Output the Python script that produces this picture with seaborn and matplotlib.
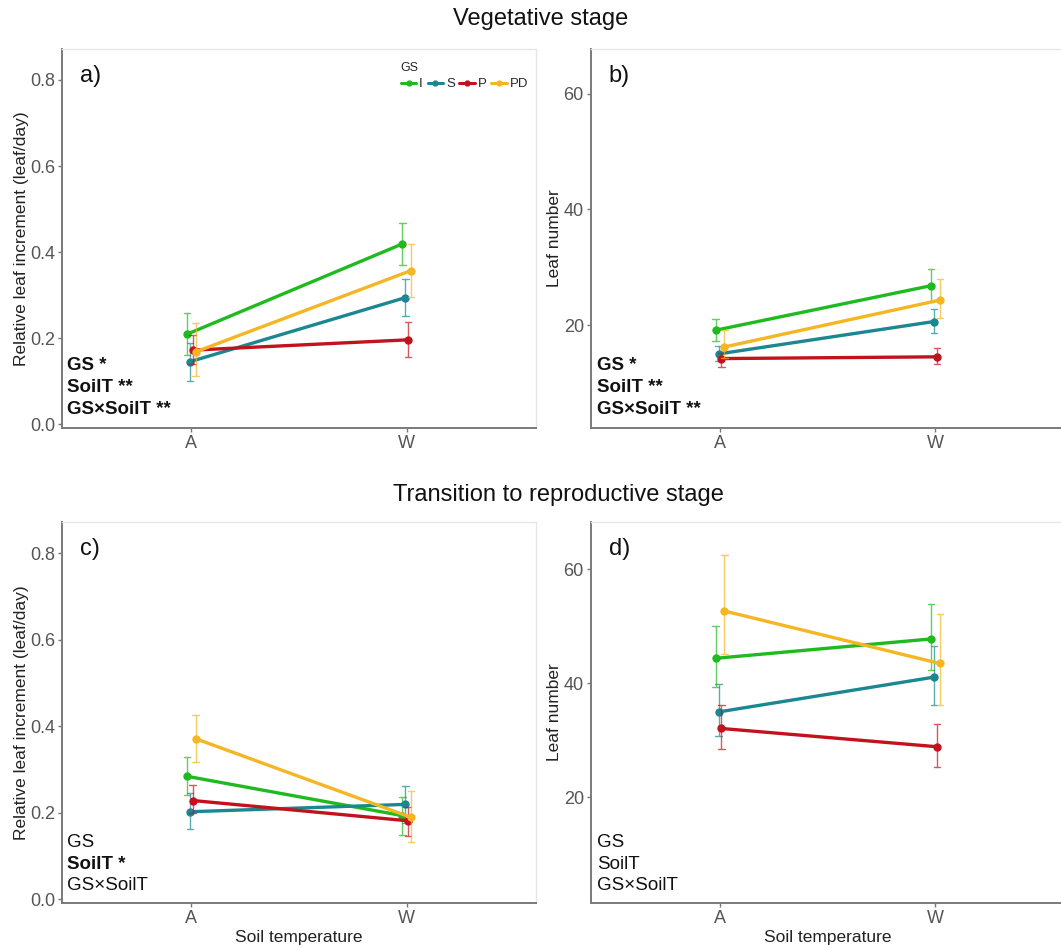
import numpy as np
import pandas as pd
import matplotlib
matplotlib.use("Agg")
import matplotlib.pyplot as plt
from matplotlib.lines import Line2D
import seaborn as sns

# ---- data: means with lower / upper error limits, per growth substrate (GS) ----
soil_temp = ["A", "W"]
gs_levels = ["I", "S", "P", "PD"]
gs_colors = ["#1FBA1F", "#1B8791", "#C2121E", "#F4B622"]

# a) vegetative stage, relative leaf increment (leaf/day)
veg_rate_mean = {"I": [0.209, 0.419], "S": [0.145, 0.294], "P": [0.172, 0.196], "PD": [0.168, 0.357]}
veg_rate_lo = {"I": [0.161, 0.371], "S": [0.100, 0.251], "P": [0.140, 0.156], "PD": [0.111, 0.296]}
veg_rate_hi = {"I": [0.258, 0.467], "S": [0.189, 0.338], "P": [0.207, 0.237], "PD": [0.234, 0.419]}

# b) vegetative stage, leaf number
veg_leaf_mean = {"I": [19.1, 26.8], "S": [15.0, 20.6], "P": [14.2, 14.5], "PD": [16.2, 24.3]}
veg_leaf_lo = {"I": [17.2, 24.0], "S": [13.7, 18.6], "P": [12.8, 13.3], "PD": [14.3, 21.2]}
veg_leaf_hi = {"I": [21.0, 29.6], "S": [16.4, 22.7], "P": [15.2, 16.0], "PD": [19.1, 27.9]}

# c) transition to reproductive stage, relative leaf increment
rep_rate_mean = {"I": [0.284, 0.193], "S": [0.202, 0.219], "P": [0.228, 0.181], "PD": [0.371, 0.189]}
rep_rate_lo = {"I": [0.240, 0.148], "S": [0.161, 0.175], "P": [0.198, 0.146], "PD": [0.316, 0.132]}
rep_rate_hi = {"I": [0.329, 0.236], "S": [0.245, 0.261], "P": [0.263, 0.213], "PD": [0.426, 0.250]}

# d) transition to reproductive stage, leaf number
rep_leaf_mean = {"I": [44.4, 47.8], "S": [35.0, 41.1], "P": [32.1, 28.9], "PD": [52.7, 43.5]}
rep_leaf_lo = {"I": [39.4, 42.3], "S": [30.7, 36.2], "P": [28.5, 25.4], "PD": [45.2, 36.3]}
rep_leaf_hi = {"I": [50.1, 53.9], "S": [39.9, 46.6], "P": [36.3, 32.9], "PD": [62.6, 52.2]}

panel_tags = ["a)", "b)", "c)", "d)"]
y_labels = ["Relative leaf increment (leaf/day)", "Leaf number",
            "Relative leaf increment (leaf/day)", "Leaf number"]
# ANOVA results: (text, bold)
anova_labels = [
    [("GS *", True), ("SoilT **", True), ("GS\u00d7SoilT **", True)],
    [("GS *", True), ("SoilT **", True), ("GS\u00d7SoilT **", True)],
    [("GS", False), ("SoilT *", True), ("GS\u00d7SoilT", False)],
    [("GS", False), ("SoilT", False), ("GS\u00d7SoilT", False)],
]


def long_frame(mean, lo, hi):
    rows = []
    for g in gs_levels:
        for i, t in enumerate(soil_temp):
            for v in (lo[g][i], mean[g][i], hi[g][i]):
                rows.append({"GS": g, "SoilT": t, "value": v})
    return pd.DataFrame(rows)


frames = [
    long_frame(veg_rate_mean, veg_rate_lo, veg_rate_hi),
    long_frame(veg_leaf_mean, veg_leaf_lo, veg_leaf_hi),
    long_frame(rep_rate_mean, rep_rate_lo, rep_rate_hi),
    long_frame(rep_leaf_mean, rep_leaf_lo, rep_leaf_hi),
]

sns.set_theme(style="white")
plt.rcParams["font.family"] = ["Liberation Sans", "DejaVu Sans"]

fig = plt.figure(figsize=(10.61, 9.47), dpi=100)
W, H = 1061, 947
ax_w = 474 / W
boxes = [
    (62 / W, (H - 428) / H, ax_w, 379 / H),
    (590.7 / W, (H - 428) / H, ax_w, 379 / H),
    (62 / W, (H - 903) / H, ax_w, 381 / H),
    (590.7 / W, (H - 903) / H, ax_w, 381 / H),
]
ylims = [(-0.009, 0.872), (2.2, 67.7), (-0.009, 0.872), (1.5, 68.3)]
yticks = [[0.0, 0.2, 0.4, 0.6, 0.8], [20, 40, 60], [0.0, 0.2, 0.4, 0.6, 0.8], [20, 40, 60]]

palette = dict(zip(gs_levels, gs_colors))

for k in range(4):
    ax = fig.add_axes(boxes[k])
    sns.pointplot(
        data=frames[k], x="SoilT", y="value", hue="GS",
        order=soil_temp, hue_order=gs_levels, palette=palette,
        estimator="median", errorbar=lambda v: (v.min(), v.max()),
        dodge=0.04, markers="o", markersize=4.2, linewidth=2.4,
        capsize=0.03, err_kws={"linewidth": 1.0, "alpha": 0.7},
        legend=False, ax=ax,
    )
    ax.set_xlim(-0.6, 1.6)
    ax.set_ylim(*ylims[k])
    ax.set_yticks(yticks[k])
    if k in (0, 2):
        ax.set_yticklabels([f"{t:.1f}" for t in yticks[k]])
    ax.set_ylabel(y_labels[k], fontsize=12.5, color="#222222", labelpad=1)
    if k >= 2:
        ax.set_xlabel("Soil temperature", fontsize=12.5, color="#222222", labelpad=2)
    else:
        ax.set_xlabel("")
    ax.tick_params(axis="both", labelsize=13, labelcolor="#555555", color="#777777",
                   length=3, width=1, direction="out", pad=2)
    ax.tick_params(axis="both", left=True, bottom=True)
    for side in ("left", "bottom"):
        ax.spines[side].set_color("#7A7A7A")
        ax.spines[side].set_linewidth(1.4)
    for side in ("top", "right"):
        ax.spines[side].set_color("#E6E6E6")
        ax.spines[side].set_linewidth(1.0)
    ax.grid(False)

    ax.text(0.038, 0.928, panel_tags[k], transform=ax.transAxes, fontsize=17,
            ha="left", va="center", color="#111111")

    ys = [0.166, 0.108, 0.050] if k < 2 else [0.160, 0.102, 0.045]
    for (txt, bold), yy in zip(anova_labels[k], ys):
        ax.text(0.011 if k % 2 == 0 else 0.013, yy, txt, transform=ax.transAxes,
                fontsize=13.5, fontweight="bold" if bold else "normal",
                ha="left", va="center", color="#111111")

    if k == 0:
        handles = [Line2D([0], [0], color=c, marker="o", lw=2.2, markersize=3.5)
                   for c in gs_colors]
        leg = ax.legend(handles, gs_levels, title="GS", loc="upper left",
                        bbox_to_anchor=(0.695, 0.99), ncol=4, frameon=False,
                        fontsize=9.5, title_fontsize=9, handlelength=1.2,
                        handletextpad=0.2, columnspacing=0.35, borderpad=0.2,
                        labelspacing=0.2)
        leg._legend_box.align = "left"
        leg._legend_box.sep = 3

fig.text(541 / W, 1 - 19 / H, "Vegetative stage", fontsize=17, ha="center",
         va="center", color="#111111")
fig.text(558 / W, 1 - 495 / H, "Transition to reproductive stage", fontsize=17,
         ha="center", va="center", color="#111111")

fig.savefig("out.png", dpi=100, facecolor="white")
